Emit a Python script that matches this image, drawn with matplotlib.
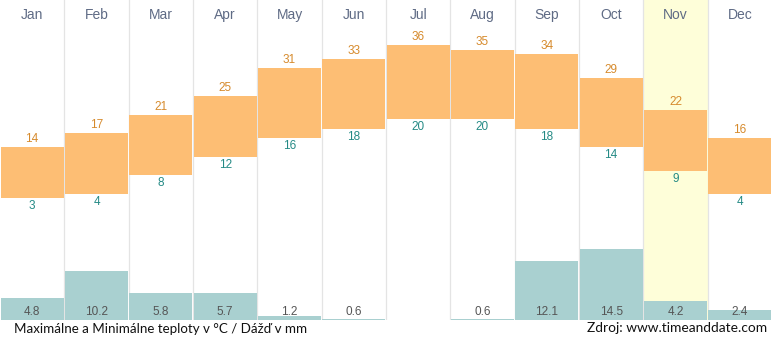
import matplotlib
matplotlib.use("Agg")
import matplotlib.pyplot as plt
import numpy as np

months = ["Jan", "Feb", "Mar", "Apr", "May", "Jun",
          "Jul", "Aug", "Sep", "Oct", "Nov", "Dec"]
t_max = [14, 17, 21, 25, 31, 33, 36, 35, 34, 29, 22, 16]
t_min = [3, 4, 8, 12, 16, 18, 20, 20, 18, 14, 9, 4]
rain = [4.8, 10.2, 5.8, 5.7, 1.2, 0.6, 0.0, 0.6, 12.1, 14.5, 4.2, 2.4]
current = 10  # Nov

plt.rcParams["font.family"] = ["Liberation Sans", "DejaVu Sans"]

W, H = 772, 338
fig = plt.figure(figsize=(W / 100, H / 100), dpi=100)
ax = fig.add_axes([0, 18 / H, 1, 320 / H])
ax.set_xlim(0, 12)
# 4.65 px per degree, 36 °C sits 45 px below the top edge
ax.set_ylim((212.4 - 320) / 4.65, 212.4 / 4.65)
ax.axis("off")

ax.axvspan(current, current + 1, color="#fefed9", zorder=0, lw=0)
for b in range(1, 12):
    ax.axvline(b, color="#e4e4e4", lw=0.9, zorder=0.5)

x = np.arange(12)
ax.bar(x + 0.008, np.array(t_max) - np.array(t_min), bottom=t_min, width=0.984,
       align="edge", color="#fdbe74", lw=0, zorder=2)

for i, m in enumerate(months):
    ax.text(i + 0.5, 1 - 15 / 320, m, transform=ax.get_xaxis_transform(),
            ha="center", va="center", fontsize=10, color="#5f6b85")
    ax.annotate(str(t_max[i]), (i + 0.5, t_max[i]), xytext=(0, 8),
                textcoords="offset pixels", ha="center", va="center",
                fontsize=8.5, color="#d68a2c")
    ax.annotate(str(t_min[i]), (i + 0.5, t_min[i]), xytext=(0, -8),
                textcoords="offset pixels", ha="center", va="center",
                fontsize=8.5, color="#248a85")

# precipitation on its own scale, about 5 px per mm
ax2 = ax.twinx()
ax2.set_ylim(0.5, 0.5 + 320 / 5.1)
ax2.axis("off")
ax2.bar(x + 0.008, rain, width=0.984, align="edge", color="#a9d0d0",
        lw=0, zorder=2)
for i, r in enumerate(rain):
    if r > 0:
        ax2.text(i + 0.5, 8 / 320, f"{r:.1f}", transform=ax2.get_xaxis_transform(),
                 ha="center", va="center", fontsize=8.5, color="#555555")

fig.text(14 / W, 1 - 329 / H, "Maximálne a Minimálne teploty v °C / Dážď v mm",
         ha="left", va="center", fontsize=9.6, color="#111111", family="Lato")
fig.text(767 / W, 1 - 328 / H, "Zdroj: www.timeanddate.com",
         ha="right", va="center", fontsize=9.9, color="#111111", family="Lato")

fig.savefig("out.png", dpi=100)
